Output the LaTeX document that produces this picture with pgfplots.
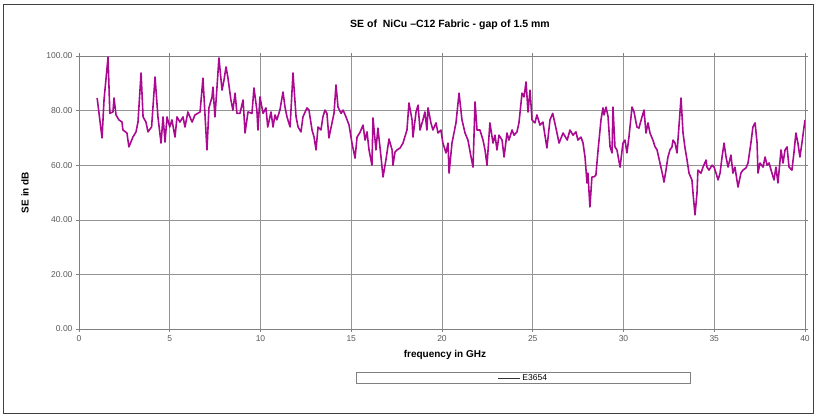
\documentclass[border=0pt]{standalone}
\usepackage{pgfplots}
\pgfplotsset{compat=1.18}
\usepackage{fontspec}
\setmainfont{Liberation Sans}
\definecolor{curve}{RGB}{170,10,145}
\pgfplotstableread{
x y
1.00 84.6
1.27 70
1.38 84
1.60 99.6
1.70 79
1.87 79.5
1.93 84.6
2.04 78.4
2.20 76.6
2.37 75.8
2.42 72.9
2.64 71.8
2.75 66.7
2.97 70.3
3.14 72.2
3.25 75.8
3.42 93.8
3.53 77.7
3.69 75.8
3.80 72.2
4.00 74
4.19 92.3
4.35 77.7
4.52 68.1
4.63 77.7
4.74 68.5
4.85 77.7
5.00 74
5.12 76.6
5.29 70.3
5.40 77.7
5.56 75.8
5.73 77.7
5.84 74
6.00 79.5
6.23 75.8
6.39 78.4
6.67 79.5
6.83 91.9
7.05 65.6
7.16 81
7.33 85
7.38 88.6
7.49 77.7
7.60 88.3
7.71 99.3
7.88 87.5
7.99 91.2
8.10 96
8.20 92.3
8.37 83.9
8.48 80.2
8.60 86.4
8.70 79
8.87 79
9.04 83.9
9.15 71.8
9.31 79.5
9.53 79
9.64 88.3
9.80 80.2
9.86 72.9
9.97 85
10.14 79
10.30 81
10.40 74
10.58 79.5
10.69 74
10.80 78.4
10.90 76.6
11.07 80.2
11.24 86.8
11.35 81.3
11.46 77.7
11.63 74
11.79 93.8
11.96 77.7
12.07 74
12.23 72.2
12.34 77.7
12.56 81
12.67 80.2
12.84 72.9
12.95 70.3
13.06 65.6
13.17 74
13.33 72.9
13.44 77.7
13.55 80.2
13.66 79
13.77 70
13.94 75.5
14.05 79
14.16 89.4
14.27 81.3
14.44 79
14.55 80.2
14.71 77.7
14.88 74.7
15.04 68.1
15.21 62.6
15.32 70.3
15.48 72
15.65 74.7
15.76 69.2
15.87 72.2
15.98 65.6
16.14 60
16.20 77.3
16.36 65.6
16.47 73.6
16.64 63
16.75 55.7
16.91 61.9
17.08 69.6
17.25 65.6
17.30 60
17.41 64.8
17.52 65.6
17.69 66.3
17.85 68.1
18.07 72.9
18.18 82.8
18.35 76.6
18.40 70.3
18.57 79.5
18.68 82
18.79 72.9
18.95 76.6
19.06 79.5
19.17 72.9
19.23 81
19.39 75.5
19.50 72.9
19.67 75.5
19.78 71.8
19.94 72.9
20.05 68.1
20.22 64.5
20.33 68.1
20.39 57.1
20.55 68.1
20.66 71.8
20.77 75.5
20.94 86.4
21.10 76.6
21.27 71.8
21.43 69.2
21.60 63
21.71 59.3
21.82 83.2
21.93 72.9
22.09 72.9
22.26 69.2
22.37 65.6
22.48 60
22.64 75.5
22.81 68.1
22.92 71
23.03 65.6
23.14 71
23.31 69.2
23.42 63
23.58 71.8
23.69 69.2
23.86 72.9
23.97 71
24.13 72.2
24.24 75.5
24.41 86.4
24.52 85
24.63 90.5
24.74 79.5
24.85 87.5
24.96 76.6
25.12 75.5
25.23 78.4
25.40 74.7
25.56 75.8
25.78 66.3
25.95 76.6
26.10 79
26.30 72.9
26.45 68.1
26.67 71.8
26.90 69.2
27.05 72.9
27.22 71
27.38 72.2
27.49 69.2
27.66 70.3
27.77 68.1
27.88 63
27.99 53.5
28.04 57.1
28.15 44.7
28.26 55.7
28.37 55.7
28.48 56.4
28.60 65.6
28.76 76.6
28.87 81
28.93 78.4
29.04 81.3
29.15 77.7
29.26 66.7
29.37 64.5
29.42 81.3
29.53 66.7
29.64 65.6
29.81 59.3
29.97 68.1
30.08 69.2
30.19 64.5
30.30 70.3
30.47 81.3
30.58 79.5
30.74 74
30.85 73.6
31.02 77.7
31.13 80.2
31.24 71.8
31.35 75.5
31.46 71.8
31.62 69.2
31.74 66.7
31.85 65.6
32.01 60.8
32.18 55.7
32.23 53.8
32.34 58.2
32.45 63
32.56 65.6
32.67 66.7
32.73 69.2
32.84 68.1
32.95 64.5
33.00 69.2
33.17 84.6
33.28 71.8
33.39 66.3
33.50 61.9
33.61 57.1
33.77 54.6
33.83 49.8
33.94 41.8
34.05 49.8
34.10 58.2
34.27 57.1
34.38 59.3
34.55 61.9
34.60 59.3
34.71 58.2
34.88 60
34.99 59.3
35.10 57.1
35.21 54.6
35.32 57.1
35.43 63
35.54 68.1
35.65 63
35.76 59.3
35.92 63.7
36.03 57.1
36.14 59.3
36.31 52
36.47 57.1
36.58 58.2
36.75 59
36.86 60.8
37.02 68.1
37.13 74
37.25 75.5
37.36 68.1
37.41 57.1
37.52 60.8
37.69 59.3
37.80 63
37.91 60
38.02 60.8
38.18 57.1
38.29 54.6
38.40 59.3
38.51 53.5
38.68 65.6
38.79 60.8
38.90 65.6
39.01 66.7
39.12 59.3
39.28 58.2
39.39 64.5
39.50 71.8
39.61 68.1
39.72 63
39.83 68.1
40.00 76.6
}\sedata
\begin{document}
\begin{tikzpicture}[x=1pt,y=1pt]
\useasboundingbox (-79,-87) rectangle (738,329);
\draw[black!75, line width=0.8pt] (-76,-84) rectangle (734,325);
\begin{axis}[
  at={(0,0)}, anchor=south west,
  scale only axis, width=726pt, height=273pt,
  xmin=0, xmax=40, ymin=0, ymax=100,
  xtick={0,5,...,40}, ytick={0,20,...,100},
  grid=major, grid style={black!42, line width=0.6pt},
  axis line style={black!50, line width=0.6pt},
  tick style={black!50, line width=0.6pt},
  tick align=outside, major tick length=3pt,
  /pgf/number format/assume math mode=true,
  yticklabel style={/pgf/number format/.cd, fixed, fixed zerofill, precision=2},
  ticklabel style={font=\fontsize{8.5}{10}\selectfont, text=black!65},
  xticklabel style={/pgf/number format/.cd, fixed, precision=0},
  every axis title shift=0pt,
  title={SE of~~NiCu \textendash C12 Fabric - gap of 1.5 mm},
  title style={at={(axis description cs:0.511,1.114)}, anchor=center, font=\bfseries\fontsize{10.5}{12}\selectfont},
  xlabel={frequency in GHz},
  xlabel style={at={(axis description cs:0.504,-0.095)}, anchor=center, font=\bfseries\fontsize{10}{12}\selectfont},
  ylabel={SE in dB},
  ylabel style={at={(axis description cs:-0.0744,0.5)}, anchor=center, font=\bfseries\fontsize{10}{12}\selectfont},
  legend style={at={(axis description cs:0.612,-0.1575)}, anchor=north, draw=black!50, line width=0.6pt,
    font=\fontsize{8.5}{9}\selectfont, inner xsep=141pt, inner ysep=0pt},
  legend image post style={black!80, line width=0.8pt},
  legend image code/.code={\draw[#1] (0pt,0pt) -- (22pt,0pt);},
]
\addplot[curve, line width=1.6pt, line join=round] table[x=x, y=y] {\sedata};
\addlegendentry{E3654}
\end{axis}
\end{tikzpicture}
\end{document}
